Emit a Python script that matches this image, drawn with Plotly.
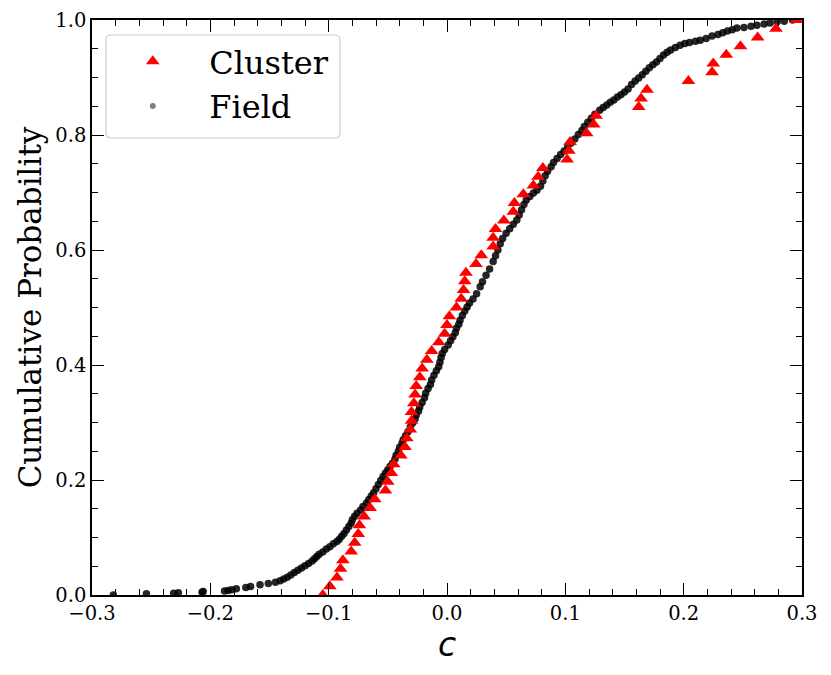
import numpy as np
import plotly.graph_objects as go

# cluster colour values (sorted); cumulative probability is i/(n-1)
cluster_c = [-0.105, -0.099, -0.093, -0.090, -0.088, -0.081, -0.078, -0.075, -0.074, -0.070,
             -0.065, -0.061, -0.052, -0.050, -0.047, -0.045, -0.039, -0.0355, -0.034, -0.031,
             -0.030, -0.030, -0.028, -0.027, -0.026, -0.023, -0.021, -0.017, -0.013, -0.007,
             -0.002, 0.000, 0.002, 0.008, 0.012, 0.014, 0.015, 0.016, 0.0245, 0.029,
             0.039, 0.039, 0.041, 0.048, 0.056, 0.057, 0.0645, 0.073, 0.077, 0.081,
             0.1015, 0.103, 0.104, 0.118, 0.124, 0.126, 0.162, 0.164, 0.169, 0.204,
             0.224, 0.225, 0.236, 0.248, 0.2625, 0.278, 0.2955]

# field sample
field_c = [-0.282, -0.254, -0.231, -0.227, -0.207, -0.206, -0.188, -0.185, -0.182, -0.178,
           -0.170, -0.166, -0.158, -0.151, -0.145, -0.141, -0.138, -0.135, -0.132, -0.129,
           -0.126, -0.123, -0.120, -0.117, -0.114, -0.112, -0.110, -0.108, -0.105, -0.102,
           -0.099, -0.096, -0.093, -0.091, -0.089, -0.087, -0.085, -0.083, -0.081, -0.080,
           -0.078, -0.076, -0.073, -0.071, -0.068, -0.066, -0.064, -0.062, -0.060, -0.058,
           -0.056, -0.054, -0.052, -0.050, -0.048, -0.046, -0.044, -0.043, -0.041, -0.040,
           -0.038, -0.037, -0.035, -0.033, -0.031, -0.029, -0.027, -0.026, -0.024, -0.023,
           -0.021, -0.019, -0.018, -0.016, -0.014, -0.013, -0.011, -0.009, -0.007, -0.006,
           -0.005, -0.004, -0.002, 0.001, 0.003, 0.005, 0.007, 0.008, 0.010, 0.011,
           0.013, 0.015, 0.017, 0.019, 0.022, 0.025, 0.028, 0.030, 0.033, 0.036,
           0.039, 0.041, 0.043, 0.045, 0.047, 0.050, 0.053, 0.056, 0.059, 0.061,
           0.063, 0.065, 0.067, 0.070, 0.073, 0.076, 0.079, 0.081, 0.083, 0.085,
           0.088, 0.090, 0.093, 0.096, 0.099, 0.102, 0.105, 0.108, 0.111, 0.114,
           0.116, 0.119, 0.122, 0.125, 0.129, 0.132, 0.135, 0.138, 0.141, 0.144,
           0.147, 0.150, 0.153, 0.156, 0.159, 0.162, 0.165, 0.168, 0.171, 0.174,
           0.177, 0.180, 0.183, 0.186, 0.189, 0.193, 0.197, 0.201, 0.205, 0.210,
           0.214, 0.219, 0.224, 0.229, 0.233, 0.237, 0.241, 0.245, 0.251, 0.257,
           0.262, 0.268, 0.273, 0.279, 0.285, 0.292]
field_cdf = [0.000, 0.002, 0.003, 0.004, 0.005, 0.006, 0.007, 0.008, 0.009, 0.011,
             0.013, 0.015, 0.018, 0.020, 0.022, 0.025, 0.028, 0.031, 0.035, 0.039,
             0.043, 0.047, 0.051, 0.055, 0.059, 0.063, 0.067, 0.071, 0.075, 0.080,
             0.084, 0.089, 0.093, 0.097, 0.102, 0.107, 0.113, 0.119, 0.125, 0.131,
             0.137, 0.142, 0.148, 0.154, 0.160, 0.166, 0.172, 0.178, 0.185, 0.192,
             0.199, 0.206, 0.212, 0.218, 0.224, 0.229, 0.236, 0.243, 0.250, 0.257,
             0.264, 0.270, 0.277, 0.284, 0.292, 0.299, 0.306, 0.313, 0.320, 0.327,
             0.335, 0.343, 0.351, 0.359, 0.366, 0.374, 0.382, 0.390, 0.397, 0.405,
             0.413, 0.420, 0.427, 0.435, 0.442, 0.449, 0.456, 0.464, 0.471, 0.478,
             0.486, 0.494, 0.501, 0.508, 0.515, 0.524, 0.536, 0.545, 0.556, 0.567,
             0.580, 0.590, 0.600, 0.611, 0.620, 0.629, 0.637, 0.645, 0.652, 0.661,
             0.670, 0.679, 0.687, 0.693, 0.699, 0.704, 0.711, 0.720, 0.729, 0.737,
             0.745, 0.752, 0.759, 0.766, 0.772, 0.779, 0.786, 0.793, 0.801, 0.808,
             0.815, 0.822, 0.829, 0.836, 0.843, 0.848, 0.852, 0.857, 0.861, 0.866,
             0.870, 0.875, 0.880, 0.888, 0.894, 0.899, 0.905, 0.911, 0.917, 0.922,
             0.927, 0.933, 0.939, 0.944, 0.948, 0.952, 0.956, 0.959, 0.961, 0.963,
             0.965, 0.968, 0.972, 0.975, 0.978, 0.981, 0.983, 0.986, 0.987, 0.989,
             0.991, 0.993, 0.995, 0.997, 0.998, 1.000]

cluster_cdf = np.arange(len(cluster_c)) / (len(cluster_c) - 1)

fig = go.Figure()
# field points: drawn darker than the legend swatch, since the original is a much denser sample
fig.add_trace(go.Scatter(x=field_c, y=field_cdf, mode="markers", name="Field", showlegend=False,
                         marker=dict(color="black", size=7.5, opacity=0.85, line=dict(width=0))))
fig.add_trace(go.Scatter(x=cluster_c, y=cluster_cdf, mode="markers", name="Cluster", legendrank=1,
                         marker=dict(color="red", size=12, symbol="triangle-up", line=dict(width=0))))
# legend swatch for the field sample
fig.add_trace(go.Scatter(x=[None], y=[None], mode="markers", name="Field", legendrank=2,
                         marker=dict(color="#808080", size=6, line=dict(width=0))))

axis_style = dict(showline=True, linecolor="black", linewidth=1.5, mirror="allticks",
                  ticks="inside", ticklen=12, tickwidth=1.3, tickcolor="black",
                  showgrid=False, zeroline=False, automargin=False,
                  tickfont=dict(family="DejaVu Serif", size=19.5, color="black"))

fig.update_xaxes(range=[-0.3, 0.3], dtick=0.1, tickformat=".1f",
                 minor=dict(dtick=0.02, ticks="inside", ticklen=6, tickcolor="black"),
                 title=dict(text="<i>c</i>", font=dict(family="DejaVu Sans", size=33, color="black"),
                            standoff=6),
                 **axis_style)
fig.update_yaxes(range=[0, 1], dtick=0.2, tickformat=".1f",
                 minor=dict(dtick=0.05, ticks="inside", ticklen=6, tickcolor="black"),
                 title=dict(text="Cumulative Probability",
                            font=dict(family="DejaVu Serif", size=31, color="black"), standoff=4),
                 **axis_style)

# legend frame with rounded corners (paper coordinates of the plot box)
x0, x1, y0, y1 = 0.0197, 0.3493, 0.7948, 0.9739
rx, ry = 0.007, 0.0087
frame = (f"M {x0+rx},{y0} L {x1-rx},{y0} Q {x1},{y0} {x1},{y0+ry} "
         f"L {x1},{y1-ry} Q {x1},{y1} {x1-rx},{y1} L {x0+rx},{y1} Q {x0},{y1} {x0},{y1-ry} "
         f"L {x0},{y0+ry} Q {x0},{y0} {x0+rx},{y0} Z")
fig.add_shape(type="path", path=frame, xref="paper", yref="paper", layer="above",
              fillcolor="rgba(255,255,255,0.85)", line=dict(color="#cccccc", width=1.2))

# page body adds an 8px offset, so the figure is sized to keep the plot box in place
fig.update_layout(
    width=823, height=667,
    margin=dict(l=84, r=29, t=12, b=80),
    plot_bgcolor="white", paper_bgcolor="white",
    legend=dict(x=0.006, y=0.9756, xanchor="left", yanchor="top",
                bgcolor="rgba(0,0,0,0)", borderwidth=0,
                font=dict(family="DejaVu Serif", size=32, color="black"),
                itemwidth=103),
    showlegend=True,
)

fig.write_html("out.html")
